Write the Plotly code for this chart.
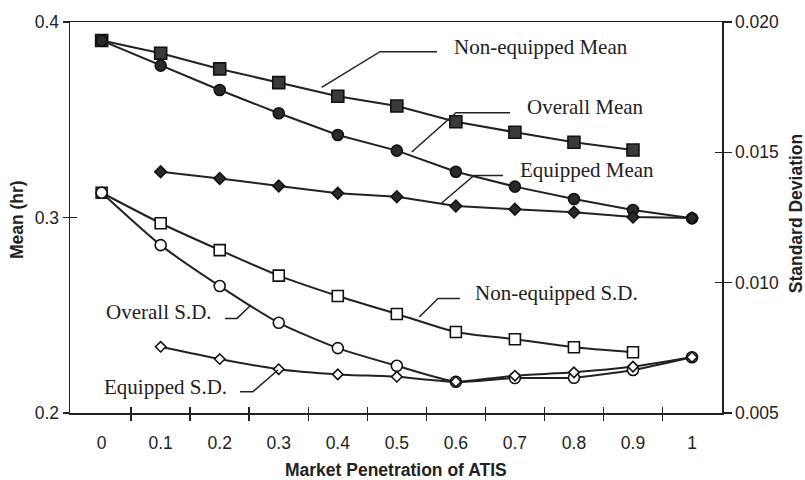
import plotly.graph_objects as go

# ---------------- data ----------------
penetration = [0.0, 0.1, 0.2, 0.3, 0.4, 0.5, 0.6, 0.7, 0.8, 0.9, 1.0]
x_tick_labels = ["0", "0.1", "0.2", "0.3", "0.4", "0.5", "0.6", "0.7", "0.8", "0.9", "1"]
x_minor_ticks = [0.05, 0.15, 0.25, 0.35, 0.45, 0.55, 0.65, 0.75, 0.85, 0.95]

mean_ticks = [0.2, 0.3, 0.4]
mean_tick_labels = ["0.2", "0.3", "0.4"]
sd_ticks = [0.005, 0.010, 0.015, 0.020]
sd_tick_labels = ["0.005", "0.010", "0.015", "0.020"]

# Means (left axis, hr)
noneq_mean_x = [0.0, 0.1, 0.2, 0.3, 0.4, 0.5, 0.6, 0.7, 0.8, 0.9]
noneq_mean = [0.3905, 0.3840, 0.3760, 0.3690, 0.3620, 0.3570, 0.3490, 0.3436, 0.3385, 0.3345]
overall_mean_x = [0.0, 0.1, 0.2, 0.3, 0.4, 0.5, 0.6, 0.7, 0.8, 0.9, 1.0]
overall_mean = [0.3905, 0.3777, 0.3652, 0.3533, 0.3422, 0.3342, 0.3234, 0.3158, 0.3095, 0.3038, 0.2996]
equip_mean_x = [0.1, 0.2, 0.3, 0.4, 0.5, 0.6, 0.7, 0.8, 0.9, 1.0]
equip_mean = [0.3234, 0.3200, 0.3161, 0.3124, 0.3106, 0.3059, 0.3042, 0.3027, 0.3002, 0.2997]

# Standard deviations (right axis)
noneq_sd_x = [0.0, 0.1, 0.2, 0.3, 0.4, 0.5, 0.6, 0.7, 0.8, 0.9]
noneq_sd = [0.01345, 0.01228, 0.01125, 0.01027, 0.00949, 0.00880, 0.00811, 0.00783, 0.00752, 0.00733]
overall_sd_x = [0.0, 0.1, 0.2, 0.3, 0.4, 0.5, 0.6, 0.7, 0.8, 0.9, 1.0]
overall_sd = [0.01345, 0.01144, 0.00987, 0.00846, 0.00749, 0.00681, 0.00620, 0.00634, 0.00635, 0.00665, 0.00714]
equip_sd_x = [0.1, 0.2, 0.3, 0.4, 0.5, 0.6, 0.7, 0.8, 0.9, 1.0]
equip_sd = [0.00754, 0.00707, 0.00668, 0.00648, 0.00639, 0.00620, 0.00643, 0.00656, 0.00678, 0.00714]

# ---------------- style ----------------
INK = "#222222"
XR = [-0.0536, 1.0508]
YR = [0.2, 0.4]
Y2R = [0.005, 0.020]
TICKFONT = dict(family="Liberation Sans, Arial, sans-serif", size=17.5, color=INK)
TITLEFONT = dict(family="Liberation Sans, Arial, sans-serif", size=17.5, color=INK)
NOTEFONT = dict(family="Liberation Serif, Times New Roman, serif", size=21, color=INK)

fig = go.Figure()

def add(xs, ys, symbol, size, fill, yaxis, shape="linear"):
    fig.add_trace(go.Scatter(
        x=xs, y=ys, mode="lines+markers", yaxis=yaxis, showlegend=False,
        line=dict(color=INK, width=2, shape=shape, smoothing=0.6),
        marker=dict(symbol=symbol, size=size, color=fill,
                    line=dict(color="#111111", width=1.6)),
        hoverinfo="skip"))

add(noneq_mean_x, noneq_mean, "square", 12, "#3a3a3a", "y")
add(overall_mean_x, overall_mean, "circle", 11, "#2a2a2a", "y")
add(equip_mean_x, equip_mean, "diamond", 9, "#2a2a2a", "y")
add(noneq_sd_x, noneq_sd, "square", 11, "white", "y2", "spline")
add(overall_sd_x, overall_sd, "circle", 11, "white", "y2", "spline")
add(equip_sd_x, equip_sd, "diamond", 8, "white", "y2", "spline")

# dummy traces so the overlay (inside-tick) axes are drawn
for xa, ya in [("x", "y3"), ("x", "y4"), ("x2", "y")]:
    fig.add_trace(go.Scatter(x=[None], y=[None], xaxis=xa, yaxis=ya,
                             showlegend=False, hoverinfo="skip"))

common = dict(showgrid=False, zeroline=False, automargin=False)

fig.update_layout(
    width=805, height=480,
    margin=dict(l=70, r=83, t=22, b=67, autoexpand=False),
    paper_bgcolor="white", plot_bgcolor="white",
    xaxis=dict(range=XR, tickmode="array", tickvals=penetration, ticktext=x_tick_labels,
               ticks="outside", ticklen=13, tickcolor="rgba(0,0,0,0)",
               showline=True, linecolor=INK, linewidth=1.5, mirror=True,
               tickfont=TICKFONT,
               minor=dict(tickmode="array", tickvals=x_minor_ticks, ticks="outside",
                          ticklen=6, tickwidth=1.5, tickcolor=INK),
               **common),
    xaxis2=dict(range=XR, overlaying="x", anchor="y", side="bottom",
                tickmode="array", tickvals=x_minor_ticks, ticks="inside",
                ticklen=6, tickwidth=1.5, tickcolor=INK,
                showticklabels=False, showline=False, **common),
    yaxis=dict(range=YR, tickmode="array", tickvals=mean_ticks, ticktext=mean_tick_labels,
               ticks="outside", ticklen=6, tickwidth=1.5, tickcolor=INK,
               showline=True, linecolor=INK, linewidth=1.5,
               tickfont=TICKFONT, **common),
    yaxis2=dict(range=Y2R, overlaying="y", side="right", anchor="x",
                tickmode="array", tickvals=sd_ticks, ticktext=sd_tick_labels,
                ticks="outside", ticklen=8, tickwidth=1.5, tickcolor=INK,
                showline=True, linecolor=INK, linewidth=1.5,
                tickfont=TICKFONT, **common),
    yaxis3=dict(range=YR, overlaying="y", side="left", anchor="x",
                tickmode="array", tickvals=mean_ticks, ticks="inside",
                ticklen=7, tickwidth=1.5, tickcolor=INK,
                showticklabels=False, showline=False, **common),
    yaxis4=dict(range=Y2R, overlaying="y", side="right", anchor="x",
                tickmode="array", tickvals=sd_ticks, ticks="inside",
                ticklen=7, tickwidth=1.5, tickcolor=INK,
                showticklabels=False, showline=False, **common),
)

# axis titles
fig.add_annotation(text="<b>Market Penetration of ATIS</b>", xref="paper", yref="paper",
                   x=0.5, y=-0.1458, xanchor="center", yanchor="middle",
                   showarrow=False, font=TITLEFONT)
fig.add_annotation(text="<b>Mean (hr)</b>", xref="paper", yref="paper",
                   x=-0.0813, y=0.496, xanchor="center", yanchor="middle",
                   textangle=-90, showarrow=False, font=TITLEFONT)
fig.add_annotation(text="<b>Standard Deviation</b>", xref="paper", yref="paper",
                   x=1.113, y=0.51, xanchor="center", yanchor="middle",
                   textangle=-90, showarrow=False, font=TITLEFONT)

# series labels with leader lines (positions in mean-axis data units)
labels = [
    ("Non-equipped Mean", 0.5934, 0.3874, "left",
     [(0.3727, 0.3666), (0.4715, 0.3848), (0.568, 0.3848)]),
    ("Overall Mean", 0.7171, 0.3565, "left",
     [(0.5252, 0.3335), (0.6002, 0.3536), (0.6917, 0.3536)]),
    ("Equipped Mean", 0.7052, 0.3243, "left",
     [(0.576, 0.3074), (0.6307, 0.3215), (0.6798, 0.3215)]),
    ("Non-equipped S.D.", 0.629, 0.2615, "left",
     [(0.538, 0.2491), (0.5697, 0.2586), (0.607, 0.2586)]),
    ("Overall S.D.", 0.190, 0.2518, "right",
     [(0.2089, 0.2484), (0.2293, 0.2484), (0.253, 0.2552)]),
    ("Equipped S.D.", 0.216, 0.2135, "right",
     [(0.2343, 0.2109), (0.2564, 0.2109), (0.2987, 0.222)]),
]
for text, tx, ty, anchor, pts in labels:
    fig.add_annotation(text=text, x=tx, y=ty, xref="x", yref="y",
                       xanchor=anchor, yanchor="middle", showarrow=False, font=NOTEFONT)
    path = "M " + " L ".join(f"{px},{py}" for px, py in pts)
    fig.add_shape(type="path", path=path, xref="x", yref="y",
                  line=dict(color=INK, width=1.5))

# remove the page's default 8px body margin so the 805x480 figure fills the window exactly
fig.write_html("out.html",
               config={"displayModeBar": False, "staticPlot": True},
               post_script="document.body.style.margin='0';document.body.style.overflow='hidden';")
